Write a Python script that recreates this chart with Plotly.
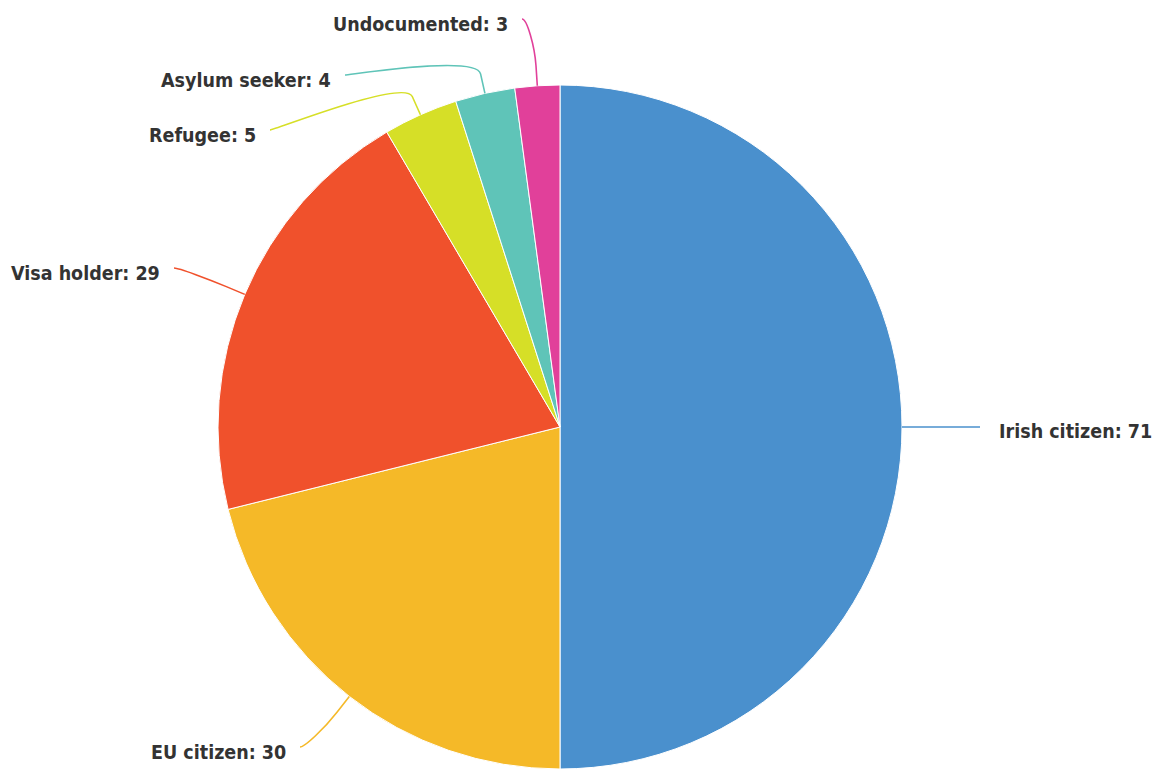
import math
import plotly.graph_objects as go

# ---- data ----
labels = ["Irish citizen", "EU citizen", "Visa holder", "Refugee", "Asylum seeker", "Undocumented"]
values = [71, 30, 29, 5, 4, 3]
colors = ["#4A90CD", "#F5B928", "#F0512C", "#D6DF27", "#5FC4B8", "#E1409A"]

# ---- layout (pixels) ----
W, H = 1160, 769
CX, CY, R = 560, 427, 342
# label anchor (text edge) positions and alignment
label_pos = [(997, 431, "left"), (288, 752, "right"), (162, 273, "right"),
             (258, 135, "right"), (333, 80, "right"), (510, 24, "right")]
BREAK = 20
PAD = 12
FONT = "DejaVu Sans Condensed, Liberation Sans Narrow, sans-serif"

def px(x):
    return x / W

def py(y):
    return 1 - y / H

fig = go.Figure()
fig.add_trace(go.Pie(
    labels=labels, values=values, sort=False, direction="clockwise", rotation=0,
    marker=dict(colors=colors, line=dict(color="white", width=1)),
    textinfo="none", hoverinfo="label+value", showlegend=False,
    domain=dict(x=[px(CX - R), px(CX + R)],
                y=[max(0.0, py(CY + R)), min(1.0, py(CY - R))]),
))

total = sum(values)
cum = 0
shapes = []
annotations = []
for lab, val, col, (lx, ly, al) in zip(labels, values, colors, label_pos):
    mid = (cum + val / 2) / total * 2 * math.pi
    cum += val
    dx, dy = math.sin(mid), -math.cos(mid)
    p0 = (CX + R * dx, CY + R * dy)
    b = (CX + (R + BREAK) * dx, CY + (R + BREAK) * dy)
    c2 = (2 * b[0] - p0[0], 2 * b[1] - p0[1])
    if al == "left":
        a = (lx - PAD - 5, ly - 4)
        c1 = (a[0] - 5, a[1])
    else:
        a = (lx + PAD, ly - 5)
        c1 = (a[0] + 5, a[1])
    path = (f"M {px(a[0])},{py(a[1])} C {px(c1[0])},{py(c1[1])} {px(c2[0])},{py(c2[1])} "
            f"{px(b[0])},{py(b[1])} L {px(p0[0])},{py(p0[1])}")
    shapes.append(dict(type="path", xref="paper", yref="paper", path=path,
                       line=dict(color=col, width=1.6)))
    annotations.append(dict(
        x=px(lx), y=py(ly), xref="paper", yref="paper", showarrow=False,
        text=f"{lab}: {val}", xanchor=al, yanchor="middle",
        font=dict(family=FONT, size=19.5, color="#333333", weight="bold"),
    ))

fig.update_layout(
    width=W, height=H, margin=dict(l=0, r=0, t=0, b=0),
    paper_bgcolor="white", plot_bgcolor="white",
    shapes=shapes, annotations=annotations,
)
fig.write_html("out.html", config={"displayModeBar": False},
               post_script="document.body.style.margin='0';document.body.style.overflow='hidden';")
